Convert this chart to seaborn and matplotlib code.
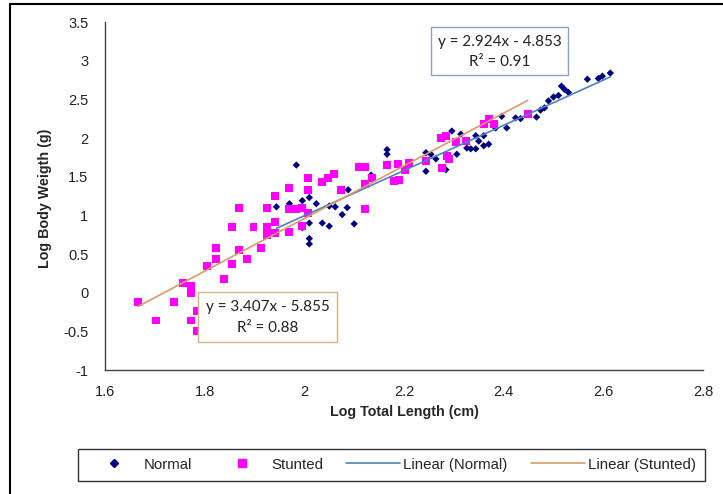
import numpy as np
import pandas as pd
import seaborn as sns
import matplotlib.pyplot as plt
from matplotlib.lines import Line2D
from matplotlib.patches import Rectangle

# values
normal_x = [1.944, 1.970, 1.984, 1.996, 2.010, 2.024, 1.996, 2.010, 2.010, 2.010,
            2.036, 2.050, 2.050, 2.062, 2.076, 2.086, 2.100, 2.088, 2.134, 2.166,
            2.166, 2.244, 2.254, 2.244, 2.264, 2.284, 2.296, 2.314, 2.306, 2.326,
            2.334, 2.344, 2.344, 2.360, 2.370, 2.360, 2.384, 2.396, 2.406, 2.424,
            2.434, 2.466, 2.474, 2.482, 2.490, 2.500, 2.510, 2.516, 2.522, 2.530,
            2.568, 2.590, 2.598, 2.614, 2.350]
normal_y = [1.11, 1.15, 1.65, 1.19, 1.23, 1.15, 0.84, 0.90, 0.70, 0.63,
            0.90, 0.86, 1.12, 1.11, 1.01, 1.10, 0.89, 1.33, 1.52, 1.85,
            1.79, 1.81, 1.79, 1.57, 1.73, 1.59, 2.09, 2.05, 1.79, 1.87,
            1.86, 1.86, 2.03, 2.03, 1.92, 1.90, 2.13, 2.28, 2.13, 2.26,
            2.25, 2.27, 2.36, 2.39, 2.48, 2.53, 2.55, 2.67, 2.63, 2.59,
            2.76, 2.77, 2.80, 2.84, 1.96]

stunted_x = [1.666, 1.702, 1.738, 1.756, 1.772, 1.772, 1.772, 1.784, 1.784, 1.804,
             1.822, 1.822, 1.838, 1.854, 1.854, 1.868, 1.868, 1.884, 1.898, 1.914,
             1.926, 1.926, 1.926, 1.942, 1.942, 1.942, 1.970, 1.970, 1.970, 1.984,
             1.996, 1.996, 2.008, 2.008, 2.008, 2.036, 2.048, 2.060, 2.074, 2.110,
             2.122, 2.122, 2.122, 2.136, 2.166, 2.188, 2.202, 2.210, 2.180, 2.190,
             2.244, 2.274, 2.284, 2.286, 2.290, 2.276, 2.304, 2.324, 2.360, 2.370,
             2.380, 2.448]
stunted_y = [-0.12, -0.36, -0.12, 0.13, 0.09, 0.00, -0.36, -0.24, -0.50, 0.34,
             0.58, 0.44, 0.18, 0.85, 0.37, 1.10, 0.55, 0.44, 0.85, 0.58,
             1.10, 0.85, 0.74, 1.25, 0.92, 0.77, 1.35, 1.08, 0.79, 1.08,
             1.10, 0.86, 1.48, 1.33, 1.03, 1.43, 1.48, 1.54, 1.33, 1.63,
             1.63, 1.08, 1.41, 1.48, 1.65, 1.66, 1.59, 1.68, 1.45, 1.46,
             1.70, 2.00, 2.03, 1.77, 1.73, 1.61, 1.95, 1.96, 2.18, 2.25,
             2.18, 2.31]

normal_fit = [2.924, -4.853]
stunted_fit = [3.407, -5.855]
normal_r2 = 0.91
stunted_r2 = 0.88

x_ticks = [1.6, 1.8, 2.0, 2.2, 2.4, 2.6, 2.8]
x_tick_labels = ['1.6', '1.8', '2', '2.2', '2.4', '2.6', '2.8']
y_ticks = [-1, -0.5, 0, 0.5, 1, 1.5, 2, 2.5, 3, 3.5]
y_tick_labels = ['-1', '-0.5', '0', '0.5', '1', '1.5', '2', '2.5', '3', '3.5']

c_normal = '#000080'
c_stunted = '#ff00ff'
c_lin_normal = '#4f81bd'
c_lin_stunted = '#d99a6c'

sns.set_theme(style='white')
plt.rcParams['font.family'] = ['Liberation Sans', 'DejaVu Sans']

W, H = 723, 494
fig = plt.figure(figsize=(W / 100, H / 100), dpi=100)
ax = fig.add_axes([105 / W, 1 - 370 / H, 598 / W, 348 / H])

df = pd.concat([
    pd.DataFrame({'x': normal_x, 'y': normal_y, 'group': 'Normal'}),
    pd.DataFrame({'x': stunted_x, 'y': stunted_y, 'group': 'Stunted'}),
], ignore_index=True)

sns.scatterplot(data=df, x='x', y='y', hue='group', style='group', size='group',
                markers={'Normal': 'D', 'Stunted': 's'},
                palette={'Normal': c_normal, 'Stunted': c_stunted},
                sizes={'Normal': 14, 'Stunted': 33},
                linewidth=0, legend=False, ax=ax, zorder=2)

# trend lines from the shown equations over each series' range
xn = np.array([min(normal_x), max(normal_x)])
ax.plot(xn, np.polyval(normal_fit, xn), color=c_lin_normal, lw=1.2, zorder=3)
xs = np.array([min(stunted_x), max(stunted_x)])
ax.plot(xs, np.polyval(stunted_fit, xs), color=c_lin_stunted, lw=1.2, zorder=3)

ax.set_xlim(1.6, 2.8)
ax.set_ylim(-1, 3.5)
ax.set_xticks(x_ticks)
ax.set_xticklabels(x_tick_labels)
ax.set_yticks(y_ticks)
ax.set_yticklabels(y_tick_labels)
ax.tick_params(length=0, labelsize=10.5, colors='#222222')
ax.tick_params(axis='x', pad=11)
ax.tick_params(axis='y', pad=12)
ax.set_xlabel('')
ax.set_ylabel('')
for side in ['top', 'right']:
    ax.spines[side].set_visible(False)
for side in ['left', 'bottom']:
    ax.spines[side].set_color('#444444')
    ax.spines[side].set_linewidth(1.0)

fig.text(404 / W, 1 - 412 / H, 'Log Total Length (cm)', ha='center', va='center',
         fontsize=10.3, fontweight='bold')
fig.text(45 / W, 1 - 198 / H, 'Log Body Weigth (g)', ha='center', va='center',
         fontsize=10.3, fontweight='bold', rotation=90)

# equation boxes
def eq_box(x0, y0, x1, y1, edge, fit, r2):
    fig.add_artist(Rectangle((x0 / W, 1 - y1 / H), (x1 - x0) / W, (y1 - y0) / H,
                             transform=fig.transFigure, facecolor='white',
                             edgecolor=edge, lw=1.0, zorder=4))
    cx = (x0 + x1) / 2
    h = y1 - y0
    fig.text(cx / W, 1 - (y0 + h * 0.31) / H, f'y = {fit[0]:.3f}x - {abs(fit[1]):.3f}',
             ha='center', va='center', fontsize=11, family=['Lato', 'DejaVu Sans'],
             color='#222222', zorder=5)
    fig.text(cx / W, 1 - (y0 + h * 0.73) / H, f'R² = {r2:.2f}',
             ha='center', va='center', fontsize=11, family=['Lato', 'DejaVu Sans'],
             color='#222222', zorder=5)

eq_box(431, 27, 568, 75, '#8aa2bf', normal_fit, normal_r2)
eq_box(198, 292, 337, 342, '#d6b08a', stunted_fit, stunted_r2)

handles = [
    Line2D([], [], marker='D', color=c_normal, ls='none', markersize=4.5),
    Line2D([], [], marker='s', color=c_stunted, ls='none', markersize=6),
    Line2D([], [], color=c_lin_normal, lw=1.2),
    Line2D([], [], color=c_lin_stunted, lw=1.2),
]
labels = ['Normal', 'Stunted', 'Linear (Normal)', 'Linear (Stunted)']
leg = fig.legend(handles, labels, loc='center',
                 bbox_to_anchor=(70 / W, 1 - 482 / H, 642 / W, 35 / H),
                 mode='expand', ncol=4, fontsize=10.8, frameon=True, fancybox=False,
                 edgecolor='black', handlelength=3.6, handletextpad=0.2,
                 borderpad=0.6)
leg.get_frame().set_linewidth(1.0)

# outer frame of the chart
fig.add_artist(Line2D([10 / W, 10 / W], [0, 1 - 4 / H], transform=fig.transFigure,
                      color='black', lw=1.5))
fig.add_artist(Line2D([10 / W, 1], [1 - 4 / H, 1 - 4 / H], transform=fig.transFigure,
                      color='black', lw=1.5))

fig.savefig('out.png', dpi=100)
